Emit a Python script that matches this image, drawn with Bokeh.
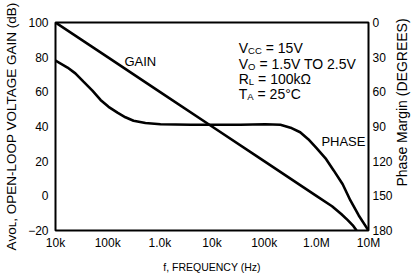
import json
from math import pi
from bokeh.plotting import figure
from bokeh.models import Range1d, LinearAxis, FixedTicker, CustomJSTickFormatter, Label
from bokeh.embed import file_html
from bokeh.resources import INLINE

# ---- data ----
gain_freq = [10, 100, 1e3, 1e4, 1e5, 1e6, 2e6, 3e6, 4e6, 5e6, 5.9e6]
gain_db = [100, 80, 60, 40, 20, 0, -6, -10.5, -14, -17, -20]

phase_freq = [10, 17, 24, 34, 51, 73, 104, 154, 219, 313, 530, 1030, 3900, 1e4, 3.5e4,
              1.05e5, 2.05e5, 3.2e5, 4.9e5, 7e5, 1e6, 1.5e6, 2.15e6, 3.2e6, 4.5e6, 6.5e6, 1e7]
phase_deg = [33, 39, 44, 51, 59, 67, 73, 78, 82, 85, 87, 88, 88.5, 88.5, 88.5,
             88, 88.5, 91, 95, 101, 108.5, 117.5, 128, 140, 154, 167, 180]

x_ticks = [10, 100, 1e3, 1e4, 1e5, 1e6, 1e7]
x_tick_labels = ["10k", "100k", "1.0k", "10k", "100k", "1.0M", "10M"]
y_ticks = [-20, 0, 20, 40, 60, 80, 100]
phase_ticks = [0, 30, 60, 90, 120, 150, 180]

FONT = "Liberation Sans"

p = figure(width=412, height=275, x_axis_type="log",
           x_range=Range1d(10, 1e7), y_range=Range1d(-20, 100),
           output_backend="svg", toolbar_location=None,
           min_border_left=55, min_border_right=44, min_border_top=22, min_border_bottom=44)

p.extra_y_ranges = {"phase": Range1d(start=180, end=0)}
right_axis = LinearAxis(y_range_name="phase", ticker=FixedTicker(ticks=phase_ticks))
p.add_layout(right_axis, "right")

p.xaxis.ticker = FixedTicker(ticks=x_ticks)
p.xaxis.formatter = CustomJSTickFormatter(
    code="const labels = %s; return labels[Math.round(Math.log10(tick)) - 1];" % json.dumps(x_tick_labels))
p.yaxis[0].ticker = FixedTicker(ticks=y_ticks)

for ax in p.xaxis + p.yaxis:
    ax.major_tick_line_color = None
    ax.minor_tick_line_color = None
    ax.major_tick_out = 0
    ax.major_tick_in = 0
    ax.minor_tick_out = 0
    ax.minor_tick_in = 0
    ax.axis_line_color = None
    ax.major_label_text_font = FONT
    ax.major_label_text_font_size = "12px"
    ax.major_label_text_color = "black"
    ax.axis_label_text_font = FONT
    ax.axis_label_text_font_style = "normal"
    ax.axis_label_text_color = "black"
p.xaxis.major_label_standoff = 5
p.yaxis[0].major_label_standoff = 7
right_axis.major_label_standoff = 4

p.xaxis.axis_label = "f, FREQUENCY (Hz)"
p.xaxis.axis_label_text_font_size = "10.5px"
p.xaxis.axis_label_standoff = 8

left_axis = p.yaxis[0]
left_axis.axis_label = "A\u1d20\u1d0f\u029f, OPEN-LOOP VOLTAGE GAIN (dB)"
left_axis.axis_label_text_font_size = "13.5px"
left_axis.axis_label_standoff = 6

p.xgrid.grid_line_color = None
p.ygrid.grid_line_color = None
p.outline_line_color = "black"
p.outline_line_width = 2
p.outline_line_alpha = 1
p.background_fill_color = "white"
p.border_fill_color = "white"

p.line(gain_freq, gain_db, line_color="black", line_width=2.6)
p.line(phase_freq, phase_deg, line_color="black", line_width=2.6, y_range_name="phase")


def lab(text, x, y, size, xo=0, yo=0):
    p.add_layout(Label(x=x, y=y, text=text, x_offset=xo, y_offset=yo,
                       text_font=FONT, text_font_size=size, text_color="black",
                       text_align="left", text_baseline="alphabetic"))


# curve labels
lab("GAIN", 210, 77.7, "13px")
lab("PHASE", 1.25e6, 31.5, "13px")

# conditions block
MAIN, SUB = "14px", "9.5px"
cx = 3.25e4
lines = [
    ("V", 9.34, "CC", 13.7, "= 15V", 85.3),
    ("V", 9.34, "O", 7.4, "= 1.5V TO 2.5V", 76.3),
    ("R", 10.1, "L", 5.3, "= 100k\u03a9", 67.5),
    ("T", 8.55, "A", 6.3, "= 25\u00b0C", 58.8),
]
for main, w1, sub, w2, rest, yy in lines:
    lab(main, cx, yy, MAIN)
    lab(sub, cx, yy, SUB, xo=w1, yo=-3)
    lab(rest, cx, yy, MAIN, xo=w1 + w2 + 4)

# right-hand title, read bottom to top, placed in the right side panel
right_title = Label(x=6, y=44, x_units="screen", y_units="screen",
                    text="Phase Margin (DEGREES)", angle=pi / 2,
                    text_font=FONT, text_font_size="14px", text_color="black",
                    text_align="left", text_baseline="alphabetic")
p.add_layout(right_title, "right")

open("out.html", "w").write(file_html(p, INLINE))
